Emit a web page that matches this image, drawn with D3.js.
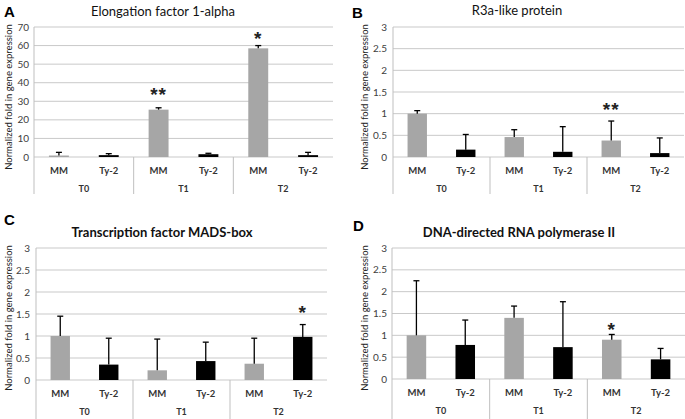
<!DOCTYPE html>
<html><head><meta charset="utf-8">
<script src="https://cdn.jsdelivr.net/npm/d3@7"></script>
<style>body{margin:0;background:#fff}svg{display:block;font-family:Lato,"Open Sans",sans-serif}</style>
</head><body><svg id="c" width="685" height="419"></svg>
<script>
const groups = ["T0","T1","T2"];
const genotypes = ["MM","Ty-2"];
const titles = ["Elongation factor 1-alpha","R3a-like protein","Transcription factor MADS-box","DNA-directed RNA polymerase II"];
const letters = ["A","B","C","D"];
const yLabel = "Normalized fold in gene expression";
// values ordered T0 MM, T0 Ty-2, T1 MM, T1 Ty-2, T2 MM, T2 Ty-2
const valuesA = [0.8, 1.0, 25.5, 1.5, 58.5, 1.0];
const errTopA = [2.5, 1.8, 26.5, 2.0, 60.0, 2.5];
const valuesB = [1.0, 0.17, 0.46, 0.12, 0.38, 0.09];
const errTopB = [1.07, 0.52, 0.63, 0.70, 0.83, 0.44];
const valuesC = [1.0, 0.35, 0.22, 0.43, 0.37, 0.98];
const errTopC = [1.45, 0.95, 0.93, 0.86, 0.95, 1.26];
const valuesD = [1.0, 0.78, 1.4, 0.73, 0.9, 0.45];
const errTopD = [2.25, 1.35, 1.67, 1.77, 1.02, 0.70];
const yMaxes = [70, 3, 3, 3];
const yStepsA = [0,10,20,30,40,50,60,70];
const yStepsBCD = [0,0.5,1,1.5,2,2.5,3];
// significance: [bar index, label, y value]
const sigA = [[2,"**",35.5],[4,"*",65.5]];
const sigB = [[4,"**",1.17]];
const sigC = [[5,"*",1.62]];
const sigD = [[4,"*",1.22]];

const panels = [
  {vals:valuesA, errs:errTopA, ticks:yStepsA, sig:sigA, left:34, right:333, top:27, bottom:157, base:194, titleBold:false, titleX:163, titleY:16, letterX:4, letterY:17, ylabX:9, tickX:29},
  {vals:valuesB, errs:errTopB, ticks:yStepsBCD, sig:sigB, left:393, right:684, top:27, bottom:157, base:194, titleBold:false, titleX:517, titleY:15, letterX:352, letterY:18, ylabX:365, tickX:387},
  {vals:valuesC, errs:errTopC, ticks:yStepsBCD, sig:sigC, left:36, right:327, top:248, bottom:380, base:419, titleBold:true, titleX:162, titleY:237, letterX:4, letterY:225, ylabX:9, tickX:30},
  {vals:valuesD, errs:errTopD, ticks:yStepsBCD, sig:sigD, left:392, right:685, top:248, bottom:379, base:419, titleBold:true, titleX:519, titleY:237, letterX:353, letterY:231, ylabX:365, tickX:387}
];

const svg = d3.select("#c");
const cats = [];
groups.forEach(g => genotypes.forEach(t => cats.push(g + "|" + t)));

panels.forEach((p, i) => {
  const g = svg.append("g");
  const x = d3.scaleBand().domain(cats).range([p.left, p.right]).paddingInner(0.6).paddingOuter(0.3);
  const xg = d3.scaleBand().domain(groups).range([p.left, p.right]);
  const y = d3.scaleLinear().domain([0, yMaxes[i]]).range([p.bottom, p.top]);

  g.selectAll(".grid").data(p.ticks).join("line")
    .attr("x1", p.left).attr("x2", p.right)
    .attr("y1", d => y(d)).attr("y2", d => y(d))
    .attr("stroke", "#c9c9c9").attr("stroke-width", 1);
  g.selectAll(".tl").data(p.ticks).join("text")
    .attr("x", p.tickX).attr("y", d => y(d) + 3.5)
    .attr("text-anchor", "end").attr("font-size", 10).attr("fill", "#404040")
    .text(d => d3.format("")(d));
  g.append("line").attr("x1", p.left).attr("x2", p.left).attr("y1", p.top).attr("y2", p.base)
    .attr("stroke", "#bfbfbf");
  groups.slice(1).forEach(gr => {
    g.append("line").attr("x1", xg(gr)).attr("x2", xg(gr)).attr("y1", p.bottom).attr("y2", p.base)
      .attr("stroke", "#bfbfbf");
  });
  g.selectAll(".bar").data(p.vals).join("rect")
    .attr("x", (d, j) => x(cats[j])).attr("width", x.bandwidth())
    .attr("y", d => y(d)).attr("height", d => p.bottom - y(d))
    .attr("fill", (d, j) => j % 2 === 0 ? "#a6a6a6" : "#000");
  p.vals.forEach((v, j) => {
    const cx = x(cats[j]) + x.bandwidth() / 2;
    g.append("line").attr("x1", cx).attr("x2", cx).attr("y1", y(v)).attr("y2", y(p.errs[j]))
      .attr("stroke", "#000").attr("stroke-width", 1.3);
    g.append("line").attr("x1", cx - 3).attr("x2", cx + 3).attr("y1", y(p.errs[j])).attr("y2", y(p.errs[j]))
      .attr("stroke", "#000").attr("stroke-width", 1.3);
  });
  p.sig.forEach(s => {
    g.append("text").attr("x", x(cats[s[0]]) + x.bandwidth() / 2).attr("y", y(s[2]) + 10)
      .attr("text-anchor", "middle").attr("font-size", 19).attr("font-weight", "bold")
      .attr("font-family", "'Liberation Sans', Arial, sans-serif").attr("fill", "#222")
      .attr("letter-spacing", 1).text(s[1]);
  });
  cats.forEach((c, j) => {
    g.append("text").attr("x", x(c) + x.bandwidth() / 2).attr("y", p.bottom + 17)
      .attr("text-anchor", "middle").attr("font-size", 9.5).attr("font-weight", "bold").attr("fill", "#333")
      .text(c.split("|")[1]);
  });
  groups.forEach(gr => {
    g.append("text").attr("x", xg(gr) + xg.bandwidth() / 2).attr("y", p.bottom + 35)
      .attr("text-anchor", "middle").attr("font-size", 9).attr("font-weight", "bold").attr("fill", "#333")
      .text(gr);
  });
  g.append("text").attr("transform", `translate(${p.ylabX + 3},${p.top + 70}) rotate(-90)`)
    .attr("text-anchor", "middle").attr("font-size", 9.5).attr("fill", "#222").text(yLabel);
  g.append("text").attr("x", p.titleX).attr("y", p.titleY).attr("text-anchor", "middle")
    .attr("font-size", 13).attr("font-weight", p.titleBold ? "bold" : "normal").attr("fill", "#111").text(titles[i]);
  g.append("text").attr("x", p.letterX).attr("y", p.letterY).attr("font-size", 15).attr("font-weight", "bold")
    .attr("font-family", "Arial, 'Liberation Sans', sans-serif").text(letters[i]);
});
</script></body></html>
